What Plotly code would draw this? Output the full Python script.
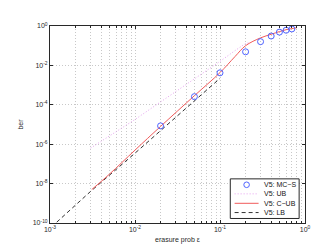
import plotly.graph_objects as go

# ---------------- data ----------------
mc_eps = [0.02, 0.05, 0.1, 0.2, 0.3, 0.4, 0.5, 0.6, 0.7]
mc_ber = [8.5e-6, 2.6e-4, 4.2e-3, 4.9e-2, 1.6e-1, 3.1e-1, 4.9e-1, 6.1e-1, 7.1e-1]

ub_eps = [0.003, 0.005, 0.01, 0.02, 0.05, 0.1, 0.15, 0.2, 0.22]
ub_ber = [6.3e-7, 2.5e-6, 1.8e-5, 1.4e-4, 2.0e-3, 1.6e-2, 5.6e-2, 1.3e-1, 1.4e-1]

cub_eps = [0.0031, 0.005, 0.01, 0.02, 0.05, 0.1, 0.15, 0.2, 0.3, 0.4, 0.5, 0.6, 0.7, 0.8]
cub_ber = [5e-9, 3e-8, 5e-7, 8e-6, 2.9e-4, 4.3e-3, 2.8e-2, 1.0e-1, 2.5e-1, 3.8e-1, 5.2e-1, 6.5e-1, 7.4e-1, 8.1e-1]

lb_eps = [0.0012, 0.003, 0.01, 0.02, 0.05, 0.1]
lb_ber = [1.1e-10, 4e-9, 3.5e-7, 5e-6, 1.6e-4, 2.2e-3]

x_tickvals = [1e-3, 1e-2, 1e-1, 1]
x_ticktext = ["10<sup>-3</sup>", "10<sup>-2</sup>", "10<sup>-1</sup>", "10<sup>0</sup>"]
y_tickvals = [1e-10, 1e-8, 1e-6, 1e-4, 1e-2, 1]
y_ticktext = ["10<sup>-10</sup>", "10<sup>-8</sup>", "10<sup>-6</sup>", "10<sup>-4</sup>", "10<sup>-2</sup>", "10<sup>0</sup>"]

legend_labels = ["V5: MC\u2212S", "V5: UB", "V5: C\u2212UB", "V5: LB"]

# ---------------- styles ----------------
C_MC = "rgb(80,100,255)"
C_UB = "rgb(230,160,240)"
C_CUB = "rgb(240,90,90)"
C_LB = "rgb(50,50,50)"
FONT = "Liberation Sans, Arial, sans-serif"
GRID = "rgb(200,200,200)"
AX = "rgb(40,40,40)"

fig = go.Figure()
fig.add_trace(go.Scatter(x=ub_eps, y=ub_ber, mode="lines",
                         line=dict(color=C_UB, width=1, dash="1px,2px"), showlegend=False))
fig.add_trace(go.Scatter(x=lb_eps, y=lb_ber, mode="lines",
                         line=dict(color=C_LB, width=1, dash="4px,3px"), showlegend=False))
fig.add_trace(go.Scatter(x=cub_eps, y=cub_ber, mode="lines", line_shape="spline",
                         line=dict(color=C_CUB, width=1), showlegend=False))
fig.add_trace(go.Scatter(x=mc_eps, y=mc_ber, mode="markers",
                         marker=dict(symbol="circle-open", size=6, color=C_MC, line=dict(width=1)),
                         showlegend=False))

axis_common = dict(
    type="log", showline=True, linecolor=AX, linewidth=1,
    mirror="ticks", ticks="inside", ticklen=3, tickcolor=AX,
    showgrid=True, gridcolor=GRID, griddash="1px,2px", gridwidth=1,
    zeroline=False, tickfont=dict(family=FONT, size=7, color=AX),
)

fig.update_xaxes(**axis_common, range=[-3, 0], tickvals=x_tickvals, ticktext=x_ticktext,
                 minor=dict(dtick="D1", showgrid=True, gridcolor=GRID, griddash="1px,2px",
                            ticks="inside", ticklen=2, tickcolor=AX),
                 title=dict(text="erasure prob \u03b5", font=dict(family=FONT, size=7, color=AX),
                            standoff=4))
fig.update_yaxes(**axis_common, range=[-10, 0], tickvals=y_tickvals, ticktext=y_ticktext,
                 title=dict(text="ber", font=dict(family=FONT, size=7, color=AX),
                            standoff=8))

# ---------------- manual legend (paper coords) ----------------
lx0, lx1, ly0, ly1 = 0.707, 0.977, 0.023, 0.224
fig.add_shape(type="rect", xref="paper", yref="paper", x0=lx0, x1=lx1, y0=ly0, y1=ly1,
              line=dict(color=AX, width=1), fillcolor="white", layer="above")
rows = [0.194, 0.148, 0.1, 0.053]
sx0, sx1, sxc, tx = 0.724, 0.818, 0.771, 0.833
fig.add_shape(type="circle", xref="paper", yref="paper", xsizemode="pixel", ysizemode="pixel",
              xanchor=sxc, yanchor=rows[0], x0=-2.8, x1=2.8, y0=-2.8, y1=2.8,
              line=dict(color=C_MC, width=1), layer="above")
fig.add_shape(type="line", xref="paper", yref="paper", x0=sx0, x1=sx1, y0=rows[1], y1=rows[1],
              line=dict(color=C_UB, width=1, dash="1px,2px"), layer="above")
fig.add_shape(type="line", xref="paper", yref="paper", x0=sx0, x1=sx1, y0=rows[2], y1=rows[2],
              line=dict(color=C_CUB, width=1), layer="above")
fig.add_shape(type="line", xref="paper", yref="paper", x0=sx0, x1=sx1, y0=rows[3], y1=rows[3],
              line=dict(color=C_LB, width=1, dash="4px,3px"), layer="above")
for lab, ry in zip(legend_labels, rows):
    fig.add_annotation(text=lab, xref="paper", yref="paper", x=tx, y=ry, xanchor="left",
                       yanchor="middle", showarrow=False,
                       font=dict(family=FONT, size=7, color="rgb(20,20,20)"))

fig.update_layout(
    width=327, height=246,
    margin=dict(l=42, r=30, t=18, b=27),
    paper_bgcolor="white", plot_bgcolor="white",
    showlegend=False,
)

fig.write_html("out.html")
